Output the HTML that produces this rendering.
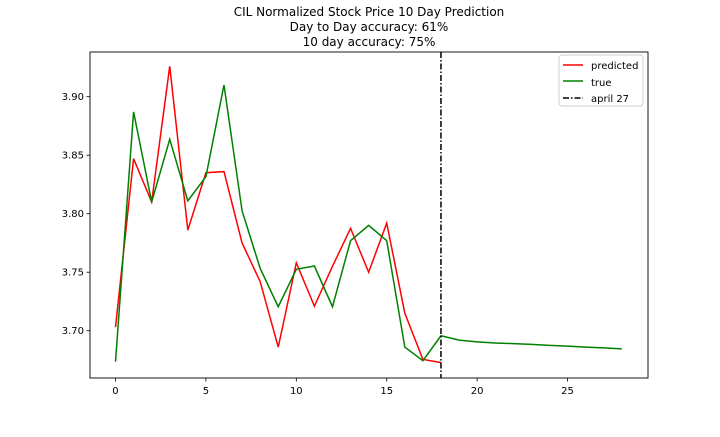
<!DOCTYPE html>
<html><head><meta charset="utf-8"><style>
body{margin:0;background:#fff;}
svg text{font-family:"DejaVu Sans","Liberation Sans",sans-serif;}
</style></head><body>
<svg id="chart" width="720" height="432" xmlns="http://www.w3.org/2000/svg">
<g font-size="12" text-anchor="middle" fill="#000">
<text x="369" y="16">CIL Normalized Stock Price 10 Day Prediction</text>
<text x="369" y="31">Day to Day accuracy: 61%</text>
<text x="369" y="46">10 day accuracy: 75%</text>
</g>
<g id="plot"></g>
<rect x="90" y="52" width="558" height="326" fill="none" stroke="#000" stroke-width="0.9"/>
<g>
<rect x="559" y="55" width="84" height="51" rx="3" fill="#fff" stroke="#ccc" stroke-width="0.9"/>
<line x1="563" y1="65" x2="583" y2="65" stroke="red" stroke-width="1.5"/>
<text x="591" y="69" font-size="10">predicted</text>
<line x1="563" y1="81" x2="583" y2="81" stroke="green" stroke-width="1.5"/>
<text x="591" y="86" font-size="10">true</text>
<line x1="563" y1="98" x2="583" y2="98" stroke="#000" stroke-width="1.5" stroke-dasharray="6,2,1.5,2"/>
<text x="591" y="102" font-size="10">april 27</text>
</g>
</svg>
<script>
const predicted=[3.703,3.847,3.810,3.926,3.786,3.835,3.836,3.775,3.742,3.686,3.758,3.721,3.755,3.7875,3.750,3.792,3.715,3.6755,3.6727];
const trueVals=[3.6735,3.887,3.810,3.8636,3.811,3.8316,3.910,3.8026,3.7533,3.7205,3.7525,3.7553,3.7205,3.777,3.790,3.777,3.686,3.6744,3.6957,3.692,3.6905,3.6895,3.689,3.6883,3.6875,3.6868,3.686,3.6853,3.6845];
const xTicks=[0,5,10,15,20,25];
const yTicks=[3.70,3.75,3.80,3.85,3.90];
const vlineX=[18];
const ns="http://www.w3.org/2000/svg";
const L=90,R=648,T=52,B=378,xmin=-1.41,xmax=29.45,ymin=3.6596,ymax=3.9382;
const sx=v=>L+(v-xmin)/(xmax-xmin)*(R-L);
const sy=v=>B-(v-ymin)/(ymax-ymin)*(B-T);
const g=document.getElementById('plot');
function mk(t,a){const e=document.createElementNS(ns,t);for(const k in a)e.setAttribute(k,a[k]);g.appendChild(e);return e;}
xTicks.forEach(v=>{
 const l=mk('line',{x1:sx(v),x2:sx(v),y1:B,y2:B+3.5,stroke:'#000','stroke-width':0.8});
 
 
 const t=mk('text',{x:sx(v),y:B+16,'font-size':10,'text-anchor':'middle'});t.textContent=v;
 
 
});
yTicks.forEach(v=>{
 const l=mk('line',{x1:L-3.5,x2:L,y1:sy(v),y2:sy(v),stroke:'#000','stroke-width':0.8});
 
 
 const t=mk('text',{x:L-6,y:sy(v)+3.5,'font-size':10,'text-anchor':'end'});t.textContent=v.toFixed(2);
 
 
});
const pp=mk('polyline',{points:predicted.map((v,i)=>sx(i)+','+sy(v)).join(' '),fill:'none',stroke:'red','stroke-width':1.5});


const tp=mk('polyline',{points:trueVals.map((v,i)=>sx(i)+','+sy(v)).join(' '),fill:'none',stroke:'green','stroke-width':1.5});


vlineX.forEach(v=>{
 const l=mk('line',{x1:sx(v),x2:sx(v),y1:T,y2:B,stroke:'#000','stroke-width':1.5,'stroke-dasharray':'6,2,1.5,2'});
 
 
});
</script>
</body></html>
